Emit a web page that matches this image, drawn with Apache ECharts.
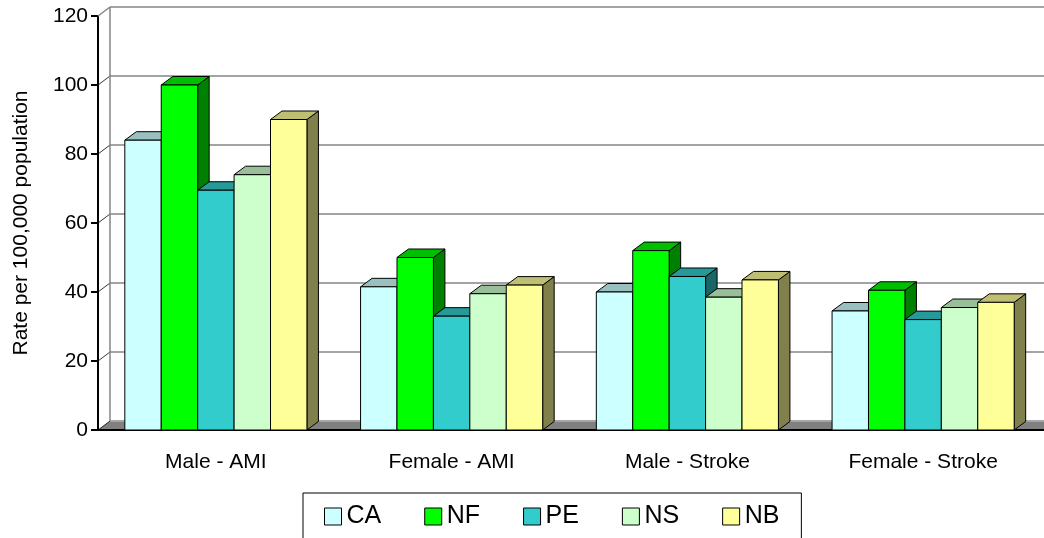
<!DOCTYPE html>
<html>
<head>
    <meta charset="UTF-8">
    <script src="https://cdn.jsdelivr.net/npm/echarts@6/dist/echarts.min.js"></script>
</head>
<body style="margin:0;background:#fff;">
    <div id="main" style="width:1044px;height:538px;"></div>
    <script type="text/javascript">
        // data
        var categories = ['Male - AMI', 'Female - AMI', 'Male - Stroke', 'Female - Stroke'];
        var seriesNames = ['CA', 'NF', 'PE', 'NS', 'NB'];
        var CA = [84, 41.5, 40, 34.5];
        var NF = [100, 50, 52, 40.5];
        var PE = [69.5, 33, 44.5, 32];
        var NS = [74, 39.5, 38.5, 35.5];
        var NB = [90, 42, 43.5, 37];
        var yTicks = [0, 20, 40, 60, 80, 100, 120];

        var values = [CA, NF, PE, NS, NB];
        // front / top / side colours
        var faces = [
            ['#CCFFFF', '#99BFBF', '#668080'],
            ['#00FF00', '#00BF00', '#008000'],
            ['#33CCCC', '#269999', '#1A6666'],
            ['#CCFFCC', '#99BF99', '#668066'],
            ['#FFFF99', '#BFBF73', '#80804D']
        ];
        var DX = 12, DY = -9;      // depth of the walls
        var BDX = 11.5, BDY = -8.5; // depth of the bars
        var BAR_RATIO = 0.1545;
        var font = 'Arial, "Liberation Sans", sans-serif';

        var myChart = echarts.init(document.getElementById('main'));

        // walls and floor behind the bars
        function renderFrame(params, api) {
            var cs = params.coordSys;
            var left = cs.x, right = cs.x + cs.width + 20;
            var y0 = api.coord([0, 0])[1];
            var yTop = api.coord([0, yTicks[yTicks.length - 1]])[1];
            var children = [];
            children.push({
                type: 'polygon',
                shape: {points: [[left, y0], [right, y0], [right, y0 + DY], [left + DX, y0 + DY]]},
                style: {fill: '#808080'}
            });
            for (var i = 0; i < yTicks.length; i++) {
                var y = api.coord([0, yTicks[i]])[1];
                children.push({
                    type: 'line',
                    shape: {x1: left + DX, y1: y + DY, x2: right, y2: y + DY},
                    style: {stroke: i === 0 ? '#a6a6a6' : '#858585', lineWidth: i === 0 ? 2 : 1.5}
                });
                children.push({
                    type: 'line',
                    shape: {x1: left, y1: y, x2: left + DX, y2: y + DY},
                    style: {stroke: i === yTicks.length - 1 ? '#858585' : '#000', lineWidth: i === yTicks.length - 1 ? 1.5 : 0.8}
                });
            }
            children.push({
                type: 'line',
                shape: {x1: left + DX, y1: yTop + DY, x2: left + DX, y2: y0 + DY},
                style: {stroke: '#858585', lineWidth: 1.5}
            });
            // x axis line runs on to the right edge
            children.push({
                type: 'line',
                shape: {x1: left, y1: y0, x2: right, y2: y0},
                style: {stroke: '#000', lineWidth: 2}
            });
            return {type: 'group', children: children};
        }

        function makeBarRenderer(k) {
            return function (params, api) {
                var cat = api.value(0);
                var base = api.coord([cat, 0]);
                var top = api.coord([cat, api.value(1)]);
                var catW = api.size([1, 0])[0];
                var barW = catW * BAR_RATIO;
                var x0 = base[0] - barW * 5 / 2 + k * barW;
                var x1 = x0 + barW;
                var yb = base[1], yt = top[1];
                var c = faces[k];
                var line = {stroke: '#000', lineWidth: 1, lineJoin: 'miter'};
                return {
                    type: 'group',
                    children: [
                        {
                            type: 'polygon',
                            shape: {points: [[x1, yb], [x1 + BDX, yb + BDY], [x1 + BDX, yt + BDY], [x1, yt]]},
                            style: Object.assign({fill: c[2]}, line)
                        },
                        {
                            type: 'polygon',
                            shape: {points: [[x0, yt], [x1, yt], [x1 + BDX, yt + BDY], [x0 + BDX, yt + BDY]]},
                            style: Object.assign({fill: c[1]}, line)
                        },
                        {
                            type: 'rect',
                            shape: {x: x0, y: yt, width: barW, height: yb - yt},
                            style: Object.assign({fill: c[0]}, line)
                        }
                    ]
                };
            };
        }

        var series = [{
            name: 'frame',
            type: 'custom',
            silent: true,
            z: 1,
            renderItem: renderFrame,
            data: [[0, 0]]
        }];
        for (var k = 0; k < seriesNames.length; k++) {
            var d = [];
            for (var j = 0; j < categories.length; j++) {
                d.push([j, values[k][j]]);
            }
            series.push({
                name: seriesNames[k],
                type: 'custom',
                z: 2,
                renderItem: makeBarRenderer(k),
                itemStyle: {color: faces[k][0]},
                encode: {x: 0, y: 1},
                data: d
            });
        }

        var option = {
            animation: false,
            grid: {left: 98, right: 3, top: 16, bottom: 108, containLabel: false},
            legend: {
                data: seriesNames,
                left: 303,
                top: 493,
                orient: 'horizontal',
                padding: [11, 22, 20, 21],
                borderColor: '#000',
                borderWidth: 1,
                itemWidth: 17,
                itemHeight: 17,
                itemGap: 43,
                icon: 'rect',
                itemStyle: {borderColor: '#000', borderWidth: 1},
                textStyle: {fontSize: 25, color: '#000', fontFamily: font}
            },
            xAxis: {
                type: 'category',
                data: categories,
                axisLine: {lineStyle: {color: '#000', width: 2}},
                axisTick: {length: 6, lineStyle: {color: '#000', width: 2}},
                axisLabel: {fontSize: 21, color: '#000', fontFamily: font, margin: 22}
            },
            yAxis: {
                type: 'value',
                min: 0,
                max: 120,
                interval: 20,
                name: 'Rate per 100,000 population',
                nameLocation: 'middle',
                nameGap: 66,
                nameTextStyle: {fontSize: 21, color: '#000', fontFamily: font},
                axisLine: {show: true, lineStyle: {color: '#000', width: 2}},
                axisTick: {show: true, length: 7, lineStyle: {color: '#000', width: 2}},
                axisLabel: {fontSize: 21, color: '#000', fontFamily: font, margin: 10},
                splitLine: {show: false}
            },
            series: series
        };

        myChart.setOption(option);
    </script>
</body>
</html>
